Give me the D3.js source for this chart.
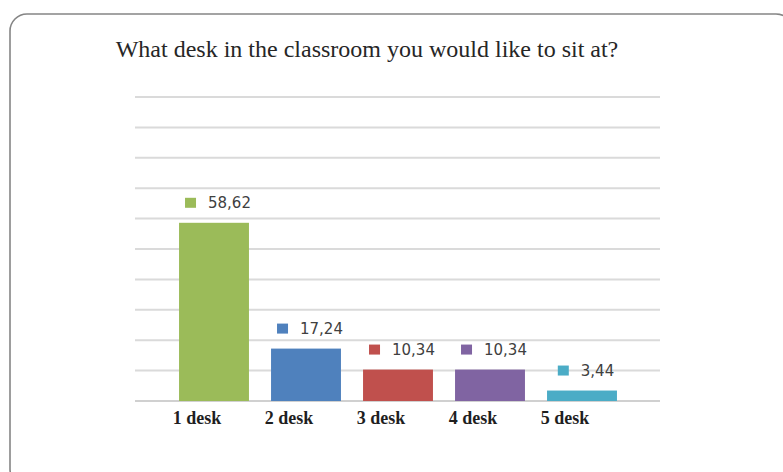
<!DOCTYPE html>
<html><head><meta charset="utf-8">
<script src="https://cdn.jsdelivr.net/npm/d3@7"></script>
<style>html,body{margin:0;padding:0;background:#fff;}svg{display:block;}</style>
</head><body>
<svg id="c" width="783" height="472"></svg>
<script>
const title = "What desk in the classroom you would like to sit at?";
const categories = ["1 desk", "2 desk", "3 desk", "4 desk", "5 desk"];
const values = [58.62, 17.24, 10.34, 10.34, 3.44];
const valueLabels = ["58,62", "17,24", "10,34", "10,34", "3,44"];
const colors = ["#9BBB59", "#4F81BD", "#C0504D", "#8064A2", "#4BACC6"];
const yTicks = [0, 10, 20, 30, 40, 50, 60, 70, 80, 90, 100];

const svg = d3.select("#c");

// frame
svg.append("rect").attr("x", 10).attr("y", 14).attr("width", 783).attr("height", 472)
  .attr("rx", 17).attr("ry", 17).attr("fill", "none").attr("stroke", "#858585").attr("stroke-width", 1.6);

svg.append("text").attr("x", 367).attr("y", 57).attr("text-anchor", "middle")
  .attr("font-family", "Liberation Serif, Times New Roman, serif").attr("font-size", 24)
  .attr("fill", "#262626").text(title);

const gx0 = 135, gx1 = 660;
const y = d3.scaleLinear().domain([0, 100]).range([401, 97]);
const x = d3.scaleBand().domain(categories).range([168, 628]).paddingInner(0.24).paddingOuter(0.12);
const xl = d3.scaleBand().domain(categories).range([151, 611]);

// gridlines
svg.append("g").selectAll("line").data(yTicks).join("line")
  .attr("x1", gx0).attr("x2", gx1).attr("y1", d => y(d)).attr("y2", d => y(d))
  .attr("stroke", d => d === 0 ? "#d0d0d0" : "#dadada").attr("stroke-width", 2);

// bars
svg.append("g").selectAll("rect").data(values).join("rect")
  .attr("x", (d, i) => x(categories[i])).attr("width", x.bandwidth())
  .attr("y", d => y(d)).attr("height", d => y(0) - y(d))
  .attr("fill", (d, i) => colors[i]);

// value labels with markers
const lg = svg.append("g").selectAll("g").data(values).join("g");
lg.each(function (d, i) {
  const g = d3.select(this);
  const t = g.append("text").attr("font-family", "DejaVu Sans, sans-serif").attr("font-size", 15)
    .attr("fill", "#404040").text(valueLabels[i]);
  const tw = t.node().getComputedTextLength();
  const total = 11 + 12 + tw;
  const cx = x(categories[i]) + x.bandwidth() / 2 + 4;
  const left = cx - total / 2;
  const cy = y(d) - 20;
  g.append("rect").attr("x", left).attr("y", cy - 5).attr("width", 11).attr("height", 10).attr("fill", colors[i]);
  t.attr("x", left + 23).attr("y", cy + 5.5);
});

// category labels
svg.append("g").selectAll("text").data(categories).join("text")
  .attr("x", d => xl(d) + xl.bandwidth() / 2).attr("y", 424).attr("text-anchor", "middle")
  .attr("font-family", "Liberation Serif, Times New Roman, serif").attr("font-weight", "bold")
  .attr("font-size", 18).attr("fill", "#1f1f1f").text(d => d);
</script>
</body></html>
